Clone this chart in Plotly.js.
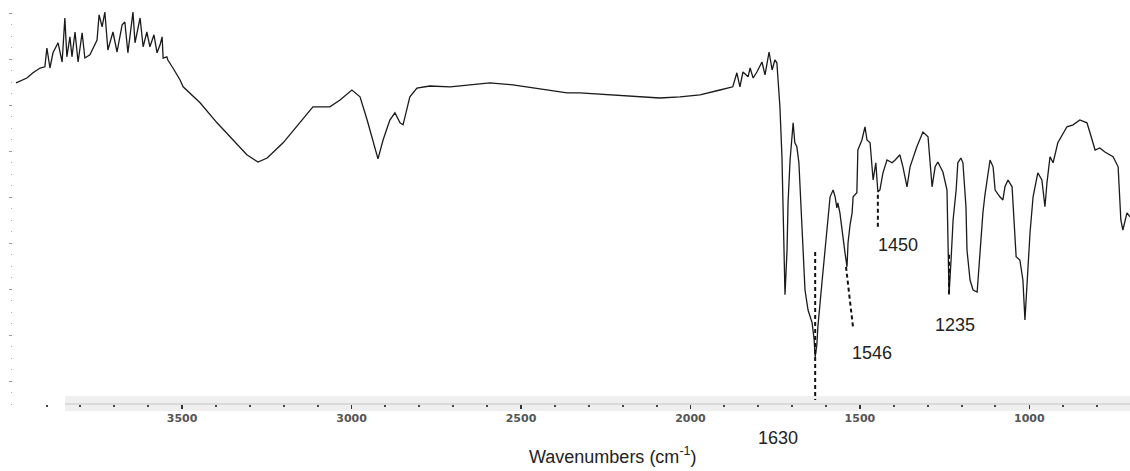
<!DOCTYPE html>
<html>
<head>
<meta charset="utf-8">
<script src="https://cdn.plot.ly/plotly-3.0.1.min.js"></script>
<style>html,body{margin:0;padding:0;background:#fff;}#chart{width:1130px;height:471px;}</style>
</head>
<body>
<div id="chart"></div>
<script>
// Wavenumber (cm-1)
const wavenumber = [3990,3958,3940,3919,3905,3899,3890,3881,3866,3854,3846,3840,3831,3825,3816,3807,3795,3787,3772,3751,3745,3736,3728,3719,3704,3692,3677,3669,3660,3645,3639,3624,3615,3604,3595,3583,3574,3565,3559,3556,3545,3542,3527,3506,3497,3447,3397,3350,3309,3276,3249,3202,3152,3114,3064,3034,2999,2975,2954,2937,2922,2907,2887,2872,2857,2848,2828,2807,2769,2709,2659,2592,2524,2444,2364,2326,2229,2158,2090,2031,1972,1913,1875,1863,1854,1845,1830,1824,1815,1804,1789,1780,1768,1759,1751,1745,1736,1730,1727,1724,1721,1715,1712,1706,1700,1697,1692,1686,1680,1674,1668,1662,1653,1641,1635,1632,1627,1624,1612,1603,1597,1591,1588,1579,1573,1568,1565,1559,1550,1544,1538,1535,1529,1523,1520,1509,1506,1494,1485,1479,1470,1464,1461,1453,1447,1441,1432,1420,1405,1396,1382,1373,1361,1352,1332,1314,1299,1287,1278,1270,1255,1243,1240,1237,1231,1225,1216,1211,1202,1196,1187,1184,1175,1166,1154,1149,1143,1137,1131,1125,1116,1107,1101,1087,1078,1072,1063,1051,1048,1039,1028,1019,1013,1007,998,989,975,963,954,948,939,930,916,889,871,851,830,821,806,792,777,753,738,730,724,712,703];
// Transmittance (arbitrary %)
const transmittance = [80.3,81.5,82.8,84.0,84.3,89.0,84.0,87.8,90.3,85.5,96.5,86.8,91.8,86.8,93.0,85.5,92.8,86.5,87.3,91.0,97.3,94.3,98.0,88.5,93.0,88.0,94.8,95.5,87.8,98.0,90.3,96.5,89.3,93.0,89.3,92.3,87.8,89.8,91.8,86.5,86.8,86.0,84.0,81.0,79.3,75.3,70.3,66.0,62.3,60.5,61.5,65.3,70.3,74.3,74.3,76.0,78.5,76.8,71.0,66.0,61.3,66.0,71.0,72.8,70.3,69.8,76.8,79.0,79.5,79.3,79.8,80.3,79.8,78.8,77.8,77.8,77.3,76.8,76.5,76.8,77.3,78.5,79.3,82.8,79.3,83.0,81.8,84.0,81.5,83.0,85.5,82.3,88.0,83.5,86.0,85.3,74.3,61.8,49.3,38.5,27.3,38.5,50.3,61.0,66.0,70.3,65.3,64.3,60.3,48.5,36.0,28.5,23.5,20.3,16.0,11.8,14.8,19.3,30.3,38.5,42.8,48.5,51.8,53.5,51.8,49.0,50.3,47.8,41.0,37.8,34.3,40.3,44.8,47.8,51.8,52.8,63.5,66.0,69.3,66.0,65.3,59.3,56.0,60.3,53.0,53.5,57.8,61.0,60.3,61.0,62.3,59.3,54.3,59.3,64.3,68.0,66.8,54.3,59.3,60.5,58.0,53.5,41.0,27.3,36.0,46.0,53.5,60.3,61.5,60.3,49.3,38.5,31.0,28.5,28.0,34.3,41.0,47.8,52.3,56.0,61.0,59.3,53.5,51.8,51.0,54.3,56.0,54.3,49.3,36.8,36.0,31.0,21.0,30.3,42.8,51.8,57.8,56.0,49.3,55.3,61.8,60.3,65.3,69.3,69.8,71.0,70.3,67.8,63.5,64.0,63.0,61.8,59.3,46.0,43.5,47.8,46.8];

// Peak labels and their dashed marker lines
const peakLabels = ['1630', '1546', '1450', '1235'];
const markerX = [[1632, 1632], [1541, 1520], [1447, 1447], [1237, 1237]];
const markerY = [[38, 1], [34.3, 19], [52.3, 44], [37.3, 27.3]];
// label anchor positions (paper fractions of the plot area)
const labelPX = [0.685, 0.769, 0.792, 0.843];
const labelPY = [-0.085, 0.1275, 0.3975, 0.1975];

const traces = [{
  x: wavenumber, y: transmittance, type: 'scatter', mode: 'lines',
  line: {color: '#1a1a1a', width: 1.3}, hoverinfo: 'skip', showlegend: false
}];
markerX.forEach((mx, i) => {
  traces.push({
    x: mx, y: markerY[i], type: 'scatter', mode: 'lines',
    line: {color: '#111', width: 2, dash: '4px,3px'}, hoverinfo: 'skip', showlegend: false,
    cliponaxis: false
  });
});

const annotations = peakLabels.map((t, i) => ({
  x: labelPX[i], y: labelPY[i], xref: 'paper', yref: 'paper', text: t, showarrow: false,
  font: {family: 'Liberation Sans, Arial, sans-serif', size: 18, color: '#222'},
  xanchor: 'center', yanchor: 'middle'
}));
annotations.push({
  x: 0.537, y: -0.13, xref: 'paper', yref: 'paper',
  text: 'Wavenumbers (cm<sup>-1</sup>)', showarrow: false,
  font: {family: 'Liberation Sans, Arial, sans-serif', size: 18, color: '#222'},
  xanchor: 'center', yanchor: 'middle'
});

const layout = {
  width: 1130, height: 471,
  margin: {l: 13, r: 0, t: 4, b: 67},
  paper_bgcolor: '#fff', plot_bgcolor: '#fff',
  showlegend: false,
  xaxis: {
    range: [3999, 703], showgrid: false, zeroline: false, showline: false,
    tick0: 0, dtick: 500, ticks: 'outside', ticklen: 4, tickwidth: 1.5, tickcolor: '#333',
    minor: {dtick: 100, ticks: 'outside', ticklen: 2, tickwidth: 2, tickcolor: '#444', showgrid: false},
    tickfont: {family: 'DejaVu Sans, sans-serif', size: 11, color: '#555', weight: 'bold'}
  },
  yaxis: {
    range: [0, 100], showgrid: false, zeroline: false, showline: false, showticklabels: false,
    tick0: 5.75, dtick: 11.5, ticks: 'outside', ticklen: 3, tickwidth: 1, tickcolor: '#999',
    minor: {dtick: 2.875, ticks: 'outside', ticklen: 1.5, tickwidth: 1, tickcolor: '#aaa', showgrid: false}
  },
  shapes: [
    {type: 'rect', xref: 'paper', yref: 'paper', x0: 0.0466, x1: 1, y0: -0.0175, y1: 0.02,
     fillcolor: '#efefef', line: {width: 0}, layer: 'below'},
    {type: 'line', xref: 'paper', yref: 'paper', x0: 0.0466, x1: 1, y0: 0, y1: 0,
     line: {color: '#c4c4c4', width: 1}, layer: 'below'}
  ],
  annotations: annotations
};

Plotly.newPlot('chart', traces, layout, {displayModeBar: false, staticPlot: true});
</script>
</body>
</html>
